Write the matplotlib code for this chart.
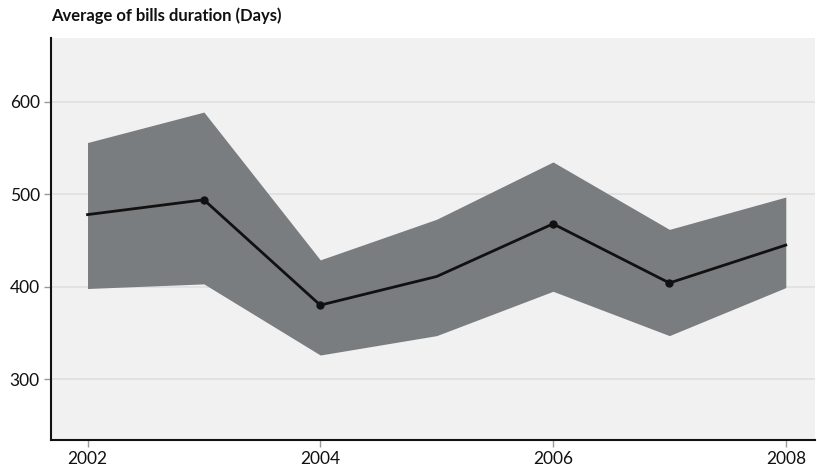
import matplotlib
matplotlib.use("Agg")
import matplotlib.pyplot as plt

years = [2002, 2003, 2004, 2005, 2006, 2007, 2008]
mean_days = [478, 494, 380, 411, 468, 404, 445]
upper_days = [556, 589, 429, 473, 535, 462, 497]
lower_days = [398, 403, 326, 347, 395, 347, 399]
marker_idx = [1, 2, 4, 5]
xticks = [2002, 2004, 2006, 2008]
yticks = [300, 400, 500, 600]
title = "Average of bills duration (Days)"

plt.rcParams['font.family'] = ['Lato', 'DejaVu Sans']

fig = plt.figure(figsize=(8.17, 4.70), dpi=100)
ax = fig.add_axes([0.0624, 0.0638, 0.935, 0.855])
ax.set_facecolor('#f0f1f0')

ax.fill_between(years, lower_days, upper_days, color='#7a7d80', linewidth=0, zorder=2)
ax.plot(years, mean_days, color='#111111', linewidth=2, marker='o', markersize=5,
        markevery=marker_idx, zorder=3)

ax.set_xlim(2001.686, 2008.25)
ax.set_ylim(234, 669)
ax.set_xticks(xticks)
ax.set_yticks(yticks)
ax.set_xticklabels([str(v) for v in xticks])
ax.set_yticklabels([str(v) for v in yticks])
ax.yaxis.grid(True, color='#e0e0e0', linewidth=1.2, zorder=1)
ax.set_axisbelow(True)

for s in ['top', 'right']:
    ax.spines[s].set_visible(False)
for s in ['left', 'bottom']:
    ax.spines[s].set_color('#111111')
    ax.spines[s].set_linewidth(1.5)

ax.tick_params(axis='both', length=5, width=1, color='#999999', labelsize=12.5,
               labelcolor='#111111', pad=3)

fig.text(51/817, 1 - 16/470, title, fontsize=12, fontweight='bold',
         color='#111111', va='center', ha='left')

fig.savefig('out.png', dpi=100)
